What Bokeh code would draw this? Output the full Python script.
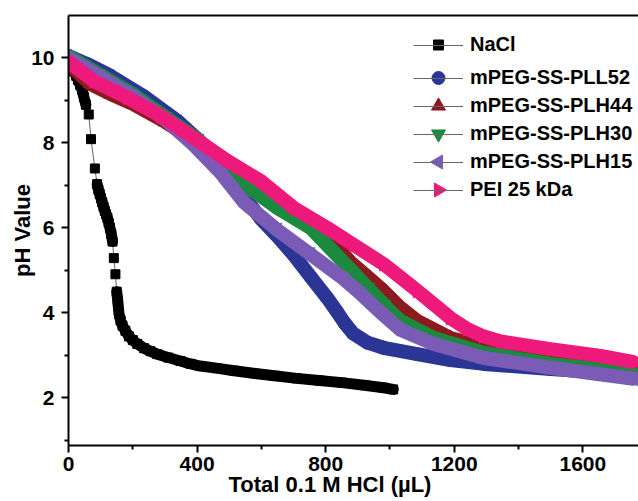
import numpy as np
from bokeh.plotting import figure
from bokeh.models import (Range1d, FixedTicker, LinearAxis, Legend, LegendItem, Title)
from bokeh.embed import file_html
from bokeh.resources import INLINE

FONT = "Liberation Sans"

# ---------------- data ----------------
x_ticks = [0, 400, 800, 1200, 1600]
x_minor = [200, 600, 1000, 1400]
y_ticks = [2, 4, 6, 8, 10]
y_minor = [1, 3, 5, 7, 9]

nacl_x = [0, 6, 12, 18, 24, 30, 36, 42, 48, 54, 63, 70, 82, 89, 93, 97, 101, 105, 109, 113,
          117, 121, 125, 129, 133, 137, 141, 146, 150, 153, 157, 162, 168, 177, 188, 200, 214,
          235, 255, 276, 310, 348, 380, 410, 460, 515, 575, 640, 710, 780, 850, 920, 980, 1010]
nacl_ph = [9.95, 9.86, 9.77, 9.68, 9.58, 9.48, 9.37, 9.25, 9.08, 8.9, 8.67, 8.09, 7.4, 7.03,
           6.9, 6.8, 6.7, 6.6, 6.5, 6.4, 6.32, 6.24, 6.12, 6.0, 5.86, 5.68, 5.29, 4.91, 4.5,
           4.3, 3.98, 3.82, 3.7, 3.58, 3.45, 3.36, 3.27, 3.17, 3.1, 3.03, 2.95, 2.87, 2.8,
           2.75, 2.7, 2.64, 2.58, 2.52, 2.46, 2.41, 2.36, 2.3, 2.24, 2.2]

pll52_x = [0, 60, 131, 234, 339, 442, 494, 556, 600, 650, 701, 753, 805, 836, 860, 885,
           930, 980, 1085, 1188, 1292, 1500, 1758]
pll52_ph = [10.05, 9.85, 9.58, 9.1, 8.52, 7.81, 7.3, 6.64, 6.2, 5.8, 5.36, 4.85, 4.35, 4.02,
            3.75, 3.52, 3.3, 3.18, 3.03, 2.89, 2.8, 2.68, 2.55]

plh44_x = [0, 68, 131, 200, 300, 400, 500, 600, 700, 800, 877, 930, 980, 1033, 1085, 1188,
           1344, 1499, 1755]
plh44_ph = [9.85, 9.39, 9.15, 8.92, 8.5, 8.02, 7.5, 7.0, 6.4, 5.85, 5.2, 4.85, 4.52, 4.12,
            3.81, 3.41, 3.11, 2.92, 2.7]

plh30_x = [0, 100, 200, 300, 400, 500, 546, 650, 753, 880, 930, 980, 1033, 1136, 1292,
           1499, 1755]
plh30_ph = [10.05, 9.6, 9.15, 8.62, 8.1, 7.35, 7.03, 6.47, 6.0, 5.0, 4.6, 4.2, 3.81, 3.41,
            3.06, 2.8, 2.59]

plh15_x = [0, 100, 200, 300, 390, 473, 546, 650, 753, 856, 909, 980, 1033, 1136, 1292,
           1499, 1758]
plh15_ph = [10.0, 9.55, 9.1, 8.55, 7.95, 7.3, 6.6, 5.95, 5.38, 4.8, 4.45, 3.95, 3.6, 3.27,
            2.94, 2.71, 2.45]

pei_x = [0, 78, 182, 286, 390, 494, 597, 701, 805, 887, 980, 1085, 1188, 1241, 1290, 1344,
         1499, 1655, 1755]
pei_ph = [9.91, 9.46, 9.07, 8.64, 8.12, 7.58, 7.11, 6.47, 6.0, 5.6, 5.15, 4.52, 3.88, 3.62,
          3.45, 3.33, 3.15, 2.99, 2.85]

names = ["NaCl", "mPEG-SS-PLL52", "mPEG-SS-PLH44", "mPEG-SS-PLH30", "mPEG-SS-PLH15", "PEI 25 kDa"]
colors = ["#000000", "#2B3595", "#8C1A1E", "#1B8A3E", "#7A5CB6", "#EE1A7B"]
markers = ["square", "circle", "triangle", "inverted_triangle", "triangle", "triangle"]
angles = [0.0, 0.0, 0.0, 0.0, np.pi / 2, -np.pi / 2]
msizes = [9, 13, 14, 14, 14, 14]
legend_msizes = [10, 13, 14, 14, 14, 14]

# ---------------- layout constants ----------------
W, H = 638, 500
BL, BR, BT, BB = 68, 0, 15, 55
FW, FH = W - BL - BR, H - BT - BB

p = figure(width=W, height=H, output_backend="svg", toolbar_location=None,
           x_range=Range1d(0, 1773), y_range=Range1d(0.88, 11.0),
           min_border_left=BL, min_border_right=BR, min_border_top=BT, min_border_bottom=BB)
p.grid.visible = False
p.outline_line_color = None
p.background_fill_color = "white"
p.border_fill_color = "white"
# pixel ranges for placing legend symbols
p.extra_x_ranges = {"px": Range1d(0, FW)}
p.extra_y_ranges = {"px": Range1d(0, FH)}

xa = p.xaxis[0]
ya = p.yaxis[0]
xa.ticker = FixedTicker(ticks=x_ticks, minor_ticks=x_minor)
ya.ticker = FixedTicker(ticks=y_ticks, minor_ticks=y_minor)
for ax in (xa, ya):
    ax.axis_line_width = 2
    ax.axis_line_color = "black"
    ax.major_tick_line_width = 2
    ax.minor_tick_line_width = 2
    ax.major_tick_line_color = "black"
    ax.minor_tick_line_color = "black"
    ax.major_tick_out = 7
    ax.major_tick_in = 0
    ax.minor_tick_out = 4
    ax.minor_tick_in = 0
    ax.major_label_text_font = FONT
    ax.major_label_text_font_style = "bold"
    ax.major_label_text_font_size = "21px"
    ax.major_label_text_color = "black"
xa.major_label_standoff = 4
ya.major_label_standoff = 7

ya.axis_label = "pH Value"
ya.axis_label_text_font = FONT
ya.axis_label_text_font_style = "bold"
ya.axis_label_text_font_size = "22px"
ya.axis_label_text_color = "black"
ya.axis_label_standoff = -7

top = LinearAxis(ticker=FixedTicker(ticks=[]), major_label_text_font_size="0px",
                 major_tick_line_color=None, minor_tick_line_color=None,
                 axis_line_width=2, axis_line_color="black", major_label_standoff=0)
p.add_layout(top, "above")

p.add_layout(Title(text="Total 0.1 M HCl (\u00b5L)", align="left", offset=160, standoff=-8,
                   text_font=FONT, text_font_style="bold", text_font_size="22px",
                   text_color="black"), "below")

# ---------------- series ----------------
legend_lines = []

# NaCl
nl = p.line(nacl_x, nacl_ph, line_color="#666666", line_width=1)
segs = [(0, 10), (13, 26), (28, len(nacl_x))]
p.multi_line([nacl_x[a:b] for a, b in segs], [nacl_ph[a:b] for a, b in segs],
             line_color="black", line_width=11, line_join="round", line_cap="round")
p.scatter(nacl_x, nacl_ph, marker=markers[0], size=msizes[0], fill_color="black", line_color="black")
legend_lines.append(nl)

series = [(pll52_x, pll52_ph), (plh44_x, plh44_ph), (plh30_x, plh30_ph),
          (plh15_x, plh15_ph), (pei_x, pei_ph)]
for i, (xs, ys) in enumerate(series):
    k = i + 1
    c = colors[k]
    gl = p.line(xs, ys, line_color="#666666", line_width=1)
    p.line(xs, ys, line_color=c, line_width=14, line_join="round", line_cap="round")
    p.scatter(xs, ys, marker=markers[k], size=msizes[k], angle=angles[k], fill_color=c, line_color=c)
    legend_lines.append(gl)

# ---------------- legend ----------------
LEG_X = 345          # legend left, px from frame left
ROW = 23             # legend row height (px)
SP = 5               # spacing between rows
LEG1_B = 389         # bottom of first legend block, px above frame bottom
LEG2_B = 244         # bottom of second legend block

def make_legend(its, loc):
    return Legend(items=its, location=loc, glyph_width=50, glyph_height=20, label_height=20,
                  label_standoff=7, spacing=SP, padding=0, margin=0,
                  border_line_color=None, background_fill_alpha=0,
                  label_text_font=FONT, label_text_font_style="bold",
                  label_text_font_size="20px", label_text_color="black")

items = [LegendItem(label=names[k], renderers=[legend_lines[k]]) for k in range(6)]
p.add_layout(make_legend(items[:1], (LEG_X, LEG1_B)))
p.add_layout(make_legend(items[1:], (LEG_X, LEG2_B)))

# legend symbols (drawn on top, so they can be rotated like the reference)
row_y = [LEG1_B + ROW / 2] + [LEG2_B + ROW / 2 + (4 - j) * (ROW + SP) for j in range(5)]
for k in range(6):
    p.scatter([LEG_X + 25], [row_y[k]], marker=markers[k], size=legend_msizes[k],
              angle=angles[k], fill_color=colors[k], line_color=colors[k],
              x_range_name="px", y_range_name="px", level="overlay")

open("out.html", "w").write(file_html(p, INLINE))
